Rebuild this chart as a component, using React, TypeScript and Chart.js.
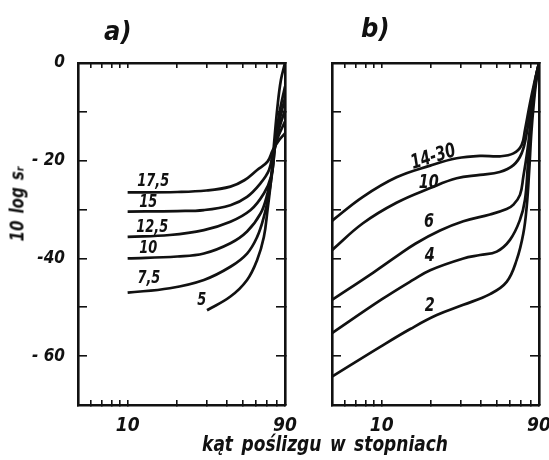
import React, { useEffect, useRef } from 'react';
import { Chart, registerables } from 'chart.js';

Chart.register(...registerables);

// ---------- axes ----------
const xTickValues = [5, 6, 7, 8, 9, 10, 20, 30, 40, 50, 60, 70, 80, 90];
const xLabelValues = [10, 90];
const yTickLabels: Record<string, string> = { '0': '0', '-20': '- 20', '-40': '-40', '-60': '- 60' };

// ---------- panel a) ----------
const a175X = [10, 20, 30, 42, 51, 61, 70.5, 76, 82, 90];
const a175Y = [-26.5, -26.4, -26.1, -25.3, -24, -21.9, -20.2, -17.8, -16, -14.4];
const a15X = [10, 20, 29, 42, 53, 64, 72, 76, 82, 90];
const a15Y = [-30.4, -30.3, -30.1, -29.1, -27.4, -24.6, -21.9, -18.5, -15, -12];
const a125X = [10, 18, 29, 42, 55.7, 67, 74, 77, 82, 90];
const a125Y = [-35.6, -35.2, -34.2, -32.5, -30.1, -26.7, -23.3, -18.5, -14, -9.6];
const a10X = [10, 20, 29, 42, 53, 64, 70.5, 75.6, 78, 83, 90];
const a10Y = [-40, -39.6, -39, -36.9, -34.5, -30.8, -26.7, -21.9, -17.5, -12, -7.2];
const a75X = [10, 18, 29, 42, 53, 61, 67, 72, 75.6, 78, 83, 90];
const a75Y = [-47, -46.1, -44.4, -41.7, -39, -35.6, -31.5, -26.7, -21.9, -17.5, -10.5, -4.8];
const a5X = [30.3, 42, 53, 61, 67, 70.5, 74, 77, 81, 85, 90];
const a5Y = [-50.6, -47.8, -44.4, -40.3, -35.6, -30.1, -24, -17, -9, -3.5, 0];

const aLabelTexts = ['17,5', '15', '12,5', '10', '7,5', '5'];
const aLabelX = [14.3, 13.35, 14.1, 13.35, 13.45, 28.1];
const aLabelY = [-24.3, -28.6, -33.7, -38.0, -44.1, -48.6];

// ---------- panel b) ----------
const b1430X = [5, 7.7, 12.3, 19.7, 28.5, 39.5, 52, 63, 70.6, 74, 79.4, 85, 90];
const b1430Y = [-32.3, -27.4, -23.4, -21, -19.5, -19.0, -19.1, -18.5, -16.8, -13.7, -8.2, -3.5, 0];
const b10X = [5, 7.7, 12.3, 19.7, 28.5, 39.5, 52, 63, 70.6, 75.8, 81.3, 86, 90];
const b10Y = [-38.3, -32.8, -28.6, -25.6, -23.6, -22.9, -22.3, -20.9, -18.5, -14.4, -7.6, -3, 0];
const b6X = [5, 8.9, 12.3, 16, 22.6, 31.3, 45.4, 57.3, 63, 69, 72.3, 77.5, 82, 86, 90];
const b6Y = [-48.5, -42.9, -39.6, -37.0, -34.3, -32.4, -31.0, -29.9, -29, -27, -23.3, -16.5, -8, -3, 0];
const b4X = [5, 10, 15.5, 19.7, 31.3, 39.5, 49.9, 60, 69, 74, 77, 80, 85, 90];
const b4Y = [-55.3, -48.4, -44.4, -42.4, -40.0, -39.3, -38.6, -36.2, -32.1, -28, -21, -13, -5, 0];
const b2X = [5, 9.8, 15, 21.6, 31.3, 45.4, 57.3, 65.9, 72.3, 75.8, 78.5, 81, 85, 90];
const b2Y = [-64.2, -58.1, -54.4, -51.6, -49.5, -47.3, -44.8, -40.3, -34.9, -29.4, -22, -14, -6, 0];

const bLabelTexts = ['14-30', '10', '6', '4', '2'];
const bLabelX = [20.6, 19.3, 19.4, 19.6, 19.6];
const bLabelY = [-19.3, -24.5, -32.6, -39.4, -49.6];
const bLabelRot = [-17, 0, 0, 0, 0];

// ---------- styling ----------
const FONT = "'Liberation Sans Narrow','DejaVu Sans Condensed','Liberation Sans',sans-serif";
const INK = '#111';

const toPoints = (xs: number[], ys: number[]) => xs.map((x, i) => ({ x, y: ys[i] }));

const lineDs = (xs: number[], ys: number[]) => ({
  data: toPoints(xs, ys),
  borderColor: INK,
  borderWidth: 2.7,
  pointRadius: 0,
  fill: false,
  tension: 0.4,
});

const curveLabelPlugin = {
  id: 'curveLabels',
  afterDatasetsDraw(chart: any, _args: any, opts: any) {
    const { ctx } = chart;
    const xs = chart.scales.x;
    const ys = chart.scales.y;
    (opts.items || []).forEach((it: any) => {
      ctx.save();
      ctx.translate(xs.getPixelForValue(it.x), ys.getPixelForValue(it.y));
      ctx.rotate(((it.rot || 0) * Math.PI) / 180);
      ctx.scale(0.8, 1);
      ctx.font = `italic bold ${opts.size}px ${FONT}`;
      ctx.fillStyle = INK;
      ctx.textAlign = 'center';
      ctx.textBaseline = 'middle';
      ctx.fillText(it.text, 0, 0);
      ctx.restore();
    });
  },
};

function makeConfig(datasets: any[], items: any[], labelSize: number, showYLabels: boolean, yWidth: number, padRight: number) {
  const border = { display: true, color: INK, width: 2.6 };
  const yFont = { family: FONT, size: 17, style: 'italic' as const, weight: 'bold' as const };
  const xFont = { family: FONT, size: 19, style: 'italic' as const, weight: 'bold' as const };
  const xCommon = {
    type: 'logarithmic' as const,
    min: 5,
    max: 90,
    afterBuildTicks: (s: any) => {
      s.ticks = xTickValues.map((v) => ({ value: v }));
    },
    border,
  };
  const yCommon = {
    type: 'linear' as const,
    min: -70,
    max: 0,
    border,
  };
  const zeroPad = (s: any) => {
    s.paddingLeft = 0;
    s.paddingRight = 0;
  };
  return {
    type: 'line' as const,
    data: { datasets },
    plugins: [curveLabelPlugin],
    options: {
      responsive: false,
      animation: false as const,
      events: [],
      layout: { padding: { left: 0, right: padRight, top: 63, bottom: 0 } },
      plugins: {
        legend: { display: false },
        tooltip: { enabled: false },
        curveLabels: { items, size: labelSize },
      },
      scales: {
        x: {
          ...xCommon,
          position: 'bottom' as const,
          afterFit: (s: any) => {
            s.height = 55;
            zeroPad(s);
          },
          grid: { drawOnChartArea: false, tickLength: -5, color: INK, lineWidth: 1.6 },
          ticks: {
            autoSkip: false,
            maxRotation: 0,
            padding: 15,
            color: INK,
            font: xFont,
            callback: (v: any) => {
              const r = Math.round(Number(v));
              return xLabelValues.includes(r) && Math.abs(Number(v) - r) < 1e-6 ? String(r) : '';
            },
          },
        },
        x2: {
          ...xCommon,
          position: 'top' as const,
          afterFit: (s: any) => {
            s.height = 0;
            zeroPad(s);
          },
          grid: { drawOnChartArea: false, tickLength: -5, color: INK, lineWidth: 1.6 },
          ticks: { display: false, autoSkip: false },
        },
        y: {
          ...yCommon,
          position: 'left' as const,
          afterFit: (s: any) => {
            s.width = yWidth;
          },
          grid: { drawOnChartArea: false, tickLength: -9, color: INK, lineWidth: 1.6 },
          ticks: {
            stepSize: 10,
            padding: 22,
            color: INK,
            font: yFont,
            display: showYLabels,
            callback: (v: any) => yTickLabels[String(v)] ?? '',
          },
        },
        y2: {
          ...yCommon,
          position: 'right' as const,
          afterFit: (s: any) => {
            s.width = 0;
          },
          grid: { drawOnChartArea: false, tickLength: -9, color: INK, lineWidth: 1.6 },
          ticks: { display: false, stepSize: 10 },
        },
      },
    },
  };
}

function Panel(props: {
  datasets: any[];
  items: any[];
  labelSize: number;
  showY: boolean;
  yWidth: number;
  padRight: number;
  left: number;
  width: number;
}) {
  const ref = useRef<HTMLCanvasElement | null>(null);
  useEffect(() => {
    if (!ref.current) return;
    const chart = new Chart(
      ref.current,
      makeConfig(props.datasets, props.items, props.labelSize, props.showY, props.yWidth, props.padRight) as any
    );
    return () => chart.destroy();
  }, []);
  return (
    <canvas
      ref={ref}
      width={props.width}
      height={460}
      style={{ position: 'absolute', left: props.left, top: 0, width: props.width, height: 460 }}
    />
  );
}

const textStyle: React.CSSProperties = {
  position: 'absolute',
  fontFamily: FONT,
  fontStyle: 'italic',
  fontWeight: 'bold',
  color: INK,
  whiteSpace: 'nowrap',
  lineHeight: 1,
};

export default function App() {
  const dsA = [
    lineDs(a175X, a175Y),
    lineDs(a15X, a15Y),
    lineDs(a125X, a125Y),
    lineDs(a10X, a10Y),
    lineDs(a75X, a75Y),
    lineDs(a5X, a5Y),
  ];
  const dsB = [lineDs(b1430X, b1430Y), lineDs(b10X, b10Y), lineDs(b6X, b6Y), lineDs(b4X, b4Y), lineDs(b2X, b2Y)];
  const itemsA = aLabelTexts.map((t, i) => ({ text: t, x: aLabelX[i], y: aLabelY[i] }));
  const itemsB = bLabelTexts.map((t, i) => ({ text: t, x: bLabelX[i], y: bLabelY[i], rot: bLabelRot[i] }));

  return (
    <div style={{ position: 'fixed', left: 0, top: 0, width: 549, height: 460, background: '#fff', overflow: 'hidden' }}>
      <Panel datasets={dsA} items={itemsA} labelSize={18} showY={true} yWidth={78} padRight={15} left={0} width={300} />
      <Panel datasets={dsB} items={itemsB} labelSize={20} showY={false} yWidth={32} padRight={10} left={300} width={249} />
      <div style={{ ...textStyle, left: 104, top: 17, fontSize: 27 }}>a)</div>
      <div style={{ ...textStyle, left: 361, top: 14, fontSize: 27 }}>b)</div>
      <div
        style={{
          ...textStyle,
          left: 17,
          top: 204,
          fontSize: 19,
          wordSpacing: 2,
          transform: 'translate(-50%, -50%) rotate(-90deg) scaleX(0.88)',
        }}
      >
        10 log sᵣ
      </div>
      <div
        style={{
          ...textStyle,
          left: 325,
          top: 444,
          fontSize: 22,
          wordSpacing: 3,
          transform: 'translate(-50%, -50%) scaleX(0.86)',
        }}
      >
        kąt poślizgu w stopniach
      </div>
    </div>
  );
}
